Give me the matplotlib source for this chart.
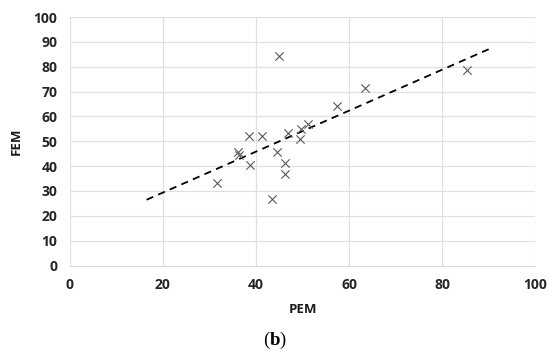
import numpy as np
import matplotlib.pyplot as plt

# PEM vs FEM values
pem = [45.0, 63.4, 57.4, 51.2, 49.7, 46.9, 49.5, 38.4, 41.2, 36.1, 36.4,
       44.6, 38.7, 46.2, 46.2, 31.7, 43.4, 85.3]
fem = [84.4, 71.6, 64.3, 56.8, 54.9, 53.2, 50.8, 52.3, 52.3, 45.6, 44.5,
       45.7, 40.6, 41.2, 36.7, 33.1, 26.6, 78.8]
trend_x = [16.5, 90.0]
ticks_x = [0, 20, 40, 60, 80, 100]
ticks_y = list(range(0, 101, 10))

plt.rcParams['font.family'] = ['Open Sans', 'DejaVu Sans']
plt.rcParams['mathtext.fontset'] = 'custom'
plt.rcParams['mathtext.rm'] = 'Liberation Serif'
plt.rcParams['mathtext.bf'] = 'Liberation Serif:bold'

fig = plt.figure(figsize=(5.5, 3.55), dpi=100)
ax = fig.add_axes([0.127, 0.252, 0.846, 0.700])

# linear trend line, extended like Excel forecast
slope, icpt = np.polyfit(pem, fem, 1)
tx = np.array(trend_x)
ax.plot(tx, slope * tx + icpt, color='black', linestyle=(0, (4, 3)), linewidth=1.3, zorder=2)

ax.scatter(pem, fem, marker='x', s=36, color='#595959', linewidths=0.8, zorder=3)

ax.set_xlim(0, 100)
ax.set_ylim(0, 100)
ax.set_xticks(ticks_x)
ax.set_yticks(ticks_y)
ax.grid(True, color='#e0e0e0', linewidth=0.9)
ax.set_axisbelow(True)
for s in ['top', 'right', 'left']:
    ax.spines[s].set_visible(False)
ax.spines['bottom'].set_color('#d9d9d9')
ax.tick_params(length=0, labelsize=10, colors='#262626', pad=9)
for lab in ax.get_xticklabels() + ax.get_yticklabels():
    lab.set_fontweight('bold')

ax.set_xlabel('PEM', fontsize=9.5, fontweight='bold', color='#1a1a1a', labelpad=8)
ax.set_ylabel('FEM', fontsize=9.5, fontweight='bold', color='#1a1a1a', labelpad=8)

fig.text(0.5, 0.042, r'($\mathbf{b}$)', ha='center', va='center', fontsize=13.5,
         family=['Liberation Serif', 'DejaVu Serif'])

fig.savefig('out.png', dpi=100, facecolor='white')
